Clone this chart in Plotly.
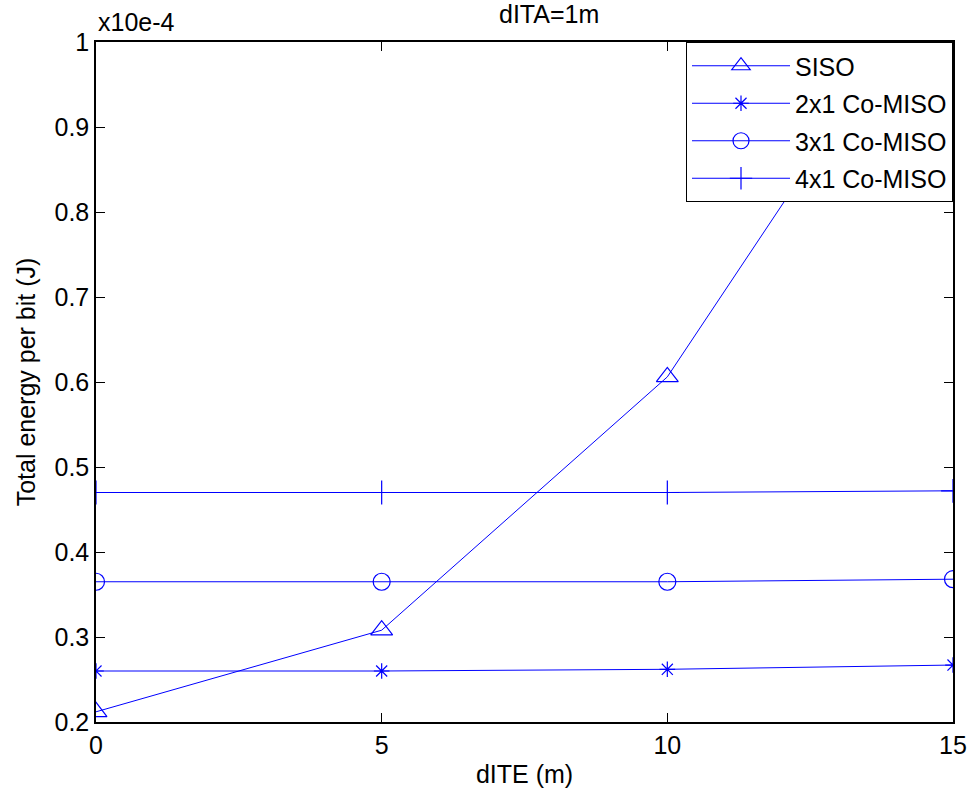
import plotly.graph_objects as go

x_vals = [0, 5, 10, 15]
siso = [0.212, 0.308, 0.606, 1.11]
miso2 = [0.260, 0.260, 0.262, 0.267]
miso3 = [0.365, 0.365, 0.365, 0.368]
miso4 = [0.470, 0.470, 0.470, 0.472]

names = ["SISO", "2x1 Co-MISO", "3x1 Co-MISO", "4x1 Co-MISO"]
series = [siso, miso2, miso3, miso4]
symbols = ["triangle-up-open", "asterisk-open", "circle-open", "cross-thin-open"]
sizes = [19, 13, 17, 17]

FONT = "Liberation Sans, Arial, sans-serif"
BLUE = "#0000ff"
FS = 25

fig = go.Figure()
for i, (n, s, sym, sz) in enumerate(zip(names, series, symbols, sizes)):
    fig.add_trace(go.Scatter(
        x=x_vals, y=s, name=n, mode="lines+markers",
        legendgroup=f"g{i}",
        line=dict(color=BLUE, width=1),
        marker=dict(symbol=sym, size=sz, color=BLUE, line=dict(color=BLUE, width=1.2)),
    ))

axis_common = dict(
    showgrid=False, zeroline=False, showline=True, linecolor="black", linewidth=1.5,
    mirror="ticks", ticks="inside", ticklen=9, tickcolor="black", tickwidth=1,
    tickfont=dict(family=FONT, size=FS, color="black"), automargin=False,
)

fig.update_layout(
    width=971, height=794,
    margin=dict(l=96, r=18, t=42, b=72),
    paper_bgcolor="white", plot_bgcolor="white",
    font=dict(family=FONT, size=FS, color="black"),
    xaxis=dict(range=[0, 15], tickvals=[0, 5, 10, 15],
               title=dict(text="dITE (m)", font=dict(family=FONT, size=FS), standoff=8),
               **axis_common),
    yaxis=dict(range=[0.2, 1.0], tickvals=[0.2, 0.3, 0.4, 0.5, 0.6, 0.7, 0.8, 0.9, 1],
               ticktext=["0.2", "0.3", "0.4", "0.5", "0.6", "0.7", "0.8", "0.9", "1"],
               title=dict(text="Total energy per bit (J)", font=dict(family=FONT, size=FS), standoff=12),
               **axis_common),
    legend=dict(x=1, y=1, xanchor="right", yanchor="top",
                bgcolor="white", bordercolor="black", borderwidth=1,
                font=dict(family=FONT, size=FS, color="black"),
                tracegroupgap=2, itemwidth=98),
    showlegend=True,
)

fig.add_annotation(text="dITA=1m", xref="paper", yref="paper", x=0.529, y=1.041,
                   xanchor="center", yanchor="middle", showarrow=False,
                   font=dict(family=FONT, size=FS, color="black"))

fig.add_annotation(text="x10e-4", xref="paper", yref="paper", x=0, y=1,
                   xanchor="left", yanchor="bottom", yshift=4, showarrow=False,
                   font=dict(family=FONT, size=FS, color="black"))

fig.write_html("out.html")
